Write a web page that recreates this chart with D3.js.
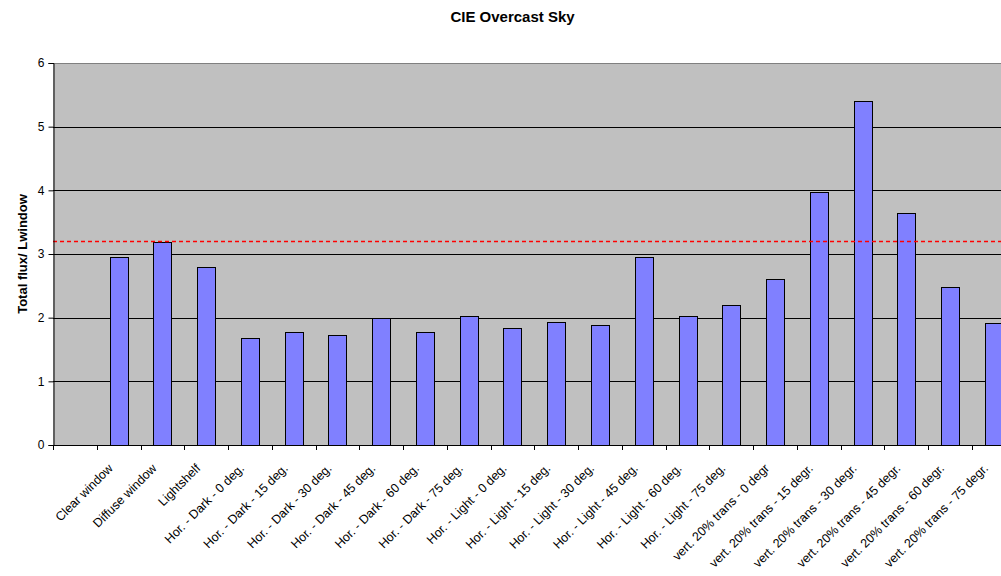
<!DOCTYPE html>
<html>
<head>
<meta charset="utf-8">
<script src="https://cdn.jsdelivr.net/npm/d3@7"></script>
<style>
  body { margin: 0; background: #fff; }
  svg { display: block; font-family: "Liberation Sans", Arial, sans-serif; }
</style>
</head>
<body>
<div id="chart"></div>
<script>
// chart data
var categories = [
  "Clear window", "Diffuse window", "Lightshelf",
  "Hor. - Dark - 0 deg.", "Hor. - Dark - 15 deg.", "Hor. - Dark - 30 deg.",
  "Hor. - Dark - 45 deg.", "Hor. - Dark - 60 deg.", "Hor. - Dark - 75 deg.",
  "Hor. - Light - 0 deg.", "Hor. - Light - 15 deg.", "Hor. - Light - 30 deg.",
  "Hor. - Light - 45 deg.", "Hor. - Light - 60 deg.", "Hor. - Light - 75 deg.",
  "vert. 20% trans - 0 degr", "vert. 20% trans - 15 degr.", "vert. 20% trans - 30 degr.",
  "vert. 20% trans - 45 degr.", "vert. 20% trans - 60 degr.", "vert. 20% trans - 75 degr."
]
var values = [
  2.95, 3.19, 2.79,
  1.68, 1.77, 1.72, 1.99, 1.77, 2.02,
  1.83, 1.93, 1.89, 2.95, 2.03, 2.20,
  2.61, 3.98, 5.41, 3.65, 2.48, 1.91
]
var referenceValue = 3.21
var yTicks = [0, 1, 2, 3, 4, 5, 6]

var fullWidth = 1001
var fullHeight = 576
var margin = {top: 63, left: 53, bottom: 131}
var step = 43.76
var slots = [""].concat(categories)   // first slot is left empty
var plotRight = margin.left + step * slots.length
var plotBottom = fullHeight - margin.bottom

var x = d3.scaleBand().domain(slots).range([margin.left, plotRight]).padding(0)
var y = d3.scaleLinear().domain([0, 6]).range([plotBottom, margin.top])

var svg = d3.select("#chart").append("svg")
  .attr("width", fullWidth)
  .attr("height", fullHeight)

// plot background
svg.append("rect")
  .attr("x", margin.left)
  .attr("y", margin.top)
  .attr("width", plotRight - margin.left)
  .attr("height", plotBottom - margin.top)
  .attr("fill", "#c0c0c0")

// gridlines
svg.selectAll(".grid").data(yTicks.slice(1, -1))
  .enter().append("line")
    .attr("class", "grid")
    .attr("x1", margin.left).attr("x2", plotRight)
    .attr("y1", function(d) { return Math.round(y(d)) + 0.5 })
    .attr("y2", function(d) { return Math.round(y(d)) + 0.5 })
    .attr("stroke", "#000")
    .attr("stroke-width", 1)

// top border
svg.append("line")
  .attr("x1", margin.left).attr("x2", plotRight)
  .attr("y1", Math.round(y(6)) + 0.5).attr("y2", Math.round(y(6)) + 0.5)
  .attr("stroke", "#808080")

// bars
var barWidth = 18
svg.selectAll(".bar").data(categories)
  .enter().append("rect")
    .attr("class", "bar")
    .attr("x", function(d) { return Math.round(x(d) + x.bandwidth() / 2 - barWidth / 2) + 0.5 })
    .attr("y", function(d, i) { return Math.round(y(values[i])) + 0.5 })
    .attr("width", barWidth)
    .attr("height", function(d, i) { return Math.round(y(0)) - Math.round(y(values[i])) })
    .attr("fill", "#8080ff")
    .attr("stroke", "#000")
    .attr("stroke-width", 1)

// reference line
svg.append("line")
  .attr("x1", margin.left).attr("x2", plotRight)
  .attr("y1", Math.round(y(referenceValue)) + 0.5)
  .attr("y2", Math.round(y(referenceValue)) + 0.5)
  .style("stroke", "#ff0000")
  .style("stroke-width", 1.5)
  .style("stroke-dasharray", "4,3")

// y axis
var yAxis = svg.append("g")
  .attr("transform", "translate(" + (margin.left + 0.5) + ",0)")
  .call(d3.axisLeft(y).tickValues(yTicks).tickSize(5).tickPadding(4).tickFormat(d3.format("d")))
yAxis.select(".domain").attr("stroke", "#000")
yAxis.selectAll("text").attr("font-size", 12).attr("font-family", "Liberation Sans, Arial, sans-serif").attr("fill", "#000")

// x axis (ticks on band boundaries)
var xAxis = svg.append("g")
xAxis.append("line")
  .attr("x1", margin.left).attr("x2", plotRight)
  .attr("y1", Math.round(plotBottom) + 0.5).attr("y2", Math.round(plotBottom) + 0.5)
  .attr("stroke", "#000")
xAxis.selectAll(".tick").data(slots)
  .enter().append("line")
    .attr("class", "tick")
    .attr("x1", function(d) { return Math.round(x(d)) + 0.5 })
    .attr("x2", function(d) { return Math.round(x(d)) + 0.5 })
    .attr("y1", plotBottom).attr("y2", plotBottom + 5)
    .attr("stroke", "#000")

xAxis.selectAll(".label").data(categories)
  .enter().append("text")
    .attr("class", "label")
    .attr("text-anchor", "end")
    .attr("font-size", 12.5)
    .attr("transform", function(d) {
      return "translate(" + (x(d) + x.bandwidth() / 2 - 5) + "," + (plotBottom + 24) + ") rotate(-45)"
    })
    .text(function(d) { return d })

// title
svg.append("text")
  .attr("x", fullWidth / 2 + 12)
  .attr("y", 22)
  .attr("text-anchor", "middle")
  .attr("font-size", 15)
  .attr("font-weight", "bold")
  .text("CIE Overcast Sky")

// y label
svg.append("text")
  .attr("text-anchor", "middle")
  .attr("transform", "translate(27," + ((margin.top + plotBottom) / 2) + ") rotate(-90)")
  .attr("font-size", 13)
  .attr("font-weight", "bold")
  .text("Total flux/ Lwindow")
</script>
</body>
</html>
